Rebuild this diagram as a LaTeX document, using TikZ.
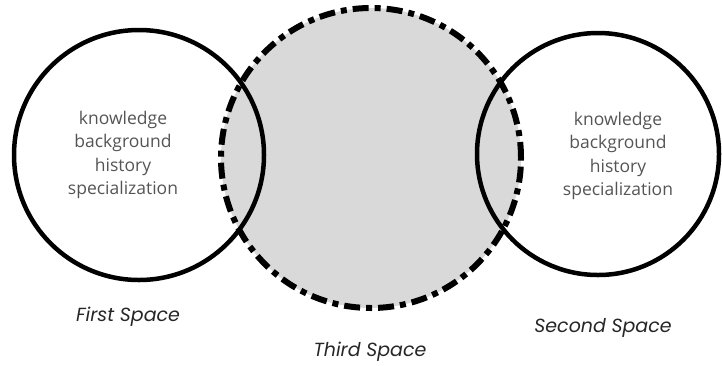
\documentclass[tikz,border=0pt]{standalone}
\usepackage{fontspec}
\setmainfont{Open Sans}
\newfontfamily\labelfont{Poppins}
\usetikzlibrary{positioning}
\definecolor{thirdgray}{HTML}{D9D9D9}
\definecolor{itemgray}{HTML}{555555}
\begin{document}
\begin{tikzpicture}[x=1pt,y=-1pt,
    space/.style={circle,draw,line width=4.5pt,inner sep=0pt},
    thirdspace/.style={space,line width=6pt,fill=thirdgray,dash pattern=on 16pt off 6pt on 6pt off 6pt},
    items/.style={align=center,text=itemgray,font=\fontsize{17.5}{23.5}\selectfont},
    spacename/.style={text=black!85,font=\labelfont\itshape\fontsize{19}{22}\selectfont}]
\useasboundingbox (0,0) rectangle (722,365);
\node[thirdspace,minimum size=300pt] (third) at (371,158) {};
\node[space,minimum size=250pt] (first) at (139,155) {};
\node[space,minimum size=242pt] (second) at (598,154) {};
\node[items] (firstitems) at (123,155) {knowledge\\background\\history\\specialization};
\node[items] (seconditems) at (618,156) {knowledge\\background\\history\\specialization};
\node[spacename] (firstname) at (128,317) {First Space};
\node[spacename] (thirdname) at (370,352) {Third Space};
\node[spacename] (secondname) at (603,328) {Second Space};
\end{tikzpicture}
\end{document}
